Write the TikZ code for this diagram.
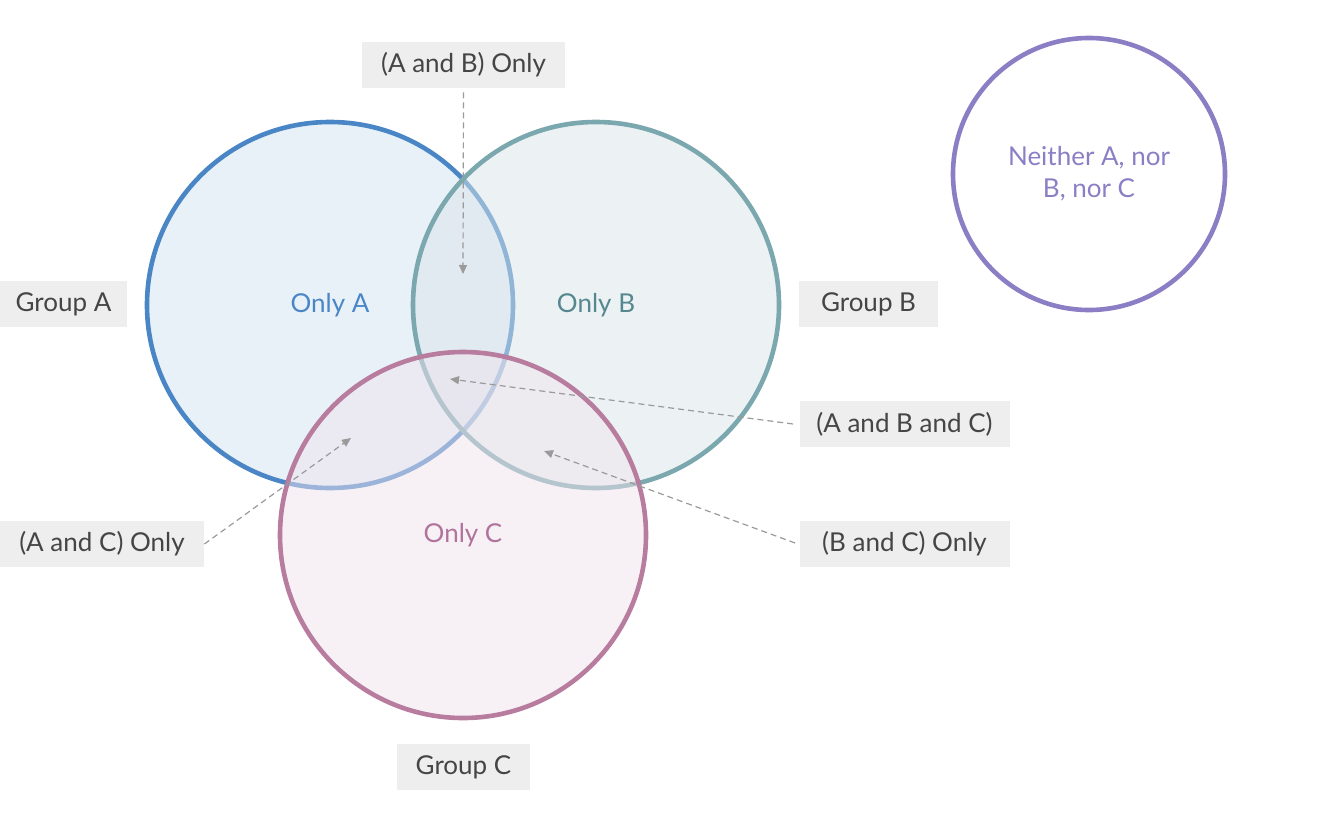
\documentclass[tikz,border=0pt]{standalone}
\usepackage{fontspec}
\setmainfont{Lato}
\usetikzlibrary{arrows.meta}
\definecolor{txt}{HTML}{454545}
\definecolor{boxfill}{HTML}{EEEEEE}
\definecolor{colA}{HTML}{4A86C6}
\definecolor{colB}{HTML}{7BA7AE}
\definecolor{colC}{HTML}{B87C9F}
\definecolor{colN}{HTML}{8B7EC4}
\definecolor{txtB}{HTML}{55878F}
\definecolor{txtC}{HTML}{B0749C}
\definecolor{fillA}{HTML}{E8F1F8}
\definecolor{fillB}{RGB}{217,229,233}
\definecolor{fillC}{RGB}{239,227,237}
\definecolor{arr}{HTML}{9A9A9A}
\tikzset{
  lbl/.style={fill=boxfill, text=txt, inner sep=0pt, minimum height=23pt, font=\fontsize{13}{15}\selectfont},
  setc/.style={circle, inner sep=0pt, minimum size=183pt, line width=2.3pt, font=\fontsize{13}{15}\selectfont},
  pointer/.style={draw=arr, line width=0.6pt, dash pattern=on 3pt off 2pt, -{Triangle[length=4.5pt,width=4pt]}}
}
\begin{document}
\begin{tikzpicture}[x=0.5pt,y=-0.5pt]
\useasboundingbox (0,0) rectangle (1334,819);
% circles
\node[setc, draw=colA, fill=fillA, text=colA] (A) at (330,305) {Only A};
\node[setc, fill=fillB, fill opacity=0.5, text opacity=1, text=txtB] (B) at (596,305) {Only B};
\node[setc, draw=colB] (Bo) at (596,305) {};
\node[setc, fill=fillC, fill opacity=0.5, text opacity=1, text=txtC] (C) at (463,535) {Only C};
\node[setc, draw=colC] (Co) at (463,535) {};
\node[setc, minimum size=136pt, draw=colN, text=colN, align=center] (N) at (1089,174) {Neither A, nor\\[1pt]B, nor C};
% labels
\node[lbl, minimum width=101.5pt] (ab) at (463.5,65) {(A and B) Only};
\node[lbl, minimum width=63.5pt] (ga) at (63.5,304) {Group A};
\node[lbl, minimum width=69.5pt] (gb) at (868.5,304) {Group B};
\node[lbl, minimum width=105pt] (abc) at (904.5,424) {(A and B and C)};
\node[lbl, minimum width=102pt] (ac) at (102,544) {(A and C) Only};
\node[lbl, minimum width=105pt] (bc) at (904.5,544) {(B and C) Only};
\node[lbl, minimum width=66.5pt] (gc) at (463.5,767) {Group C};
% pointer targets
\coordinate (tab) at (463,274);
\coordinate (tabc) at (450,379);
\coordinate (tac) at (351,438);
\coordinate (tbc) at (544,451);
\draw[pointer] (ab.south) ++(0,4) -- (tab);
\draw[pointer] (abc.west) ++(-6,0) -- (tabc);
\draw[pointer] (ac.east) -- (tac);
\draw[pointer] (bc.west) ++(-4,-1) -- (tbc);
\end{tikzpicture}
\end{document}
